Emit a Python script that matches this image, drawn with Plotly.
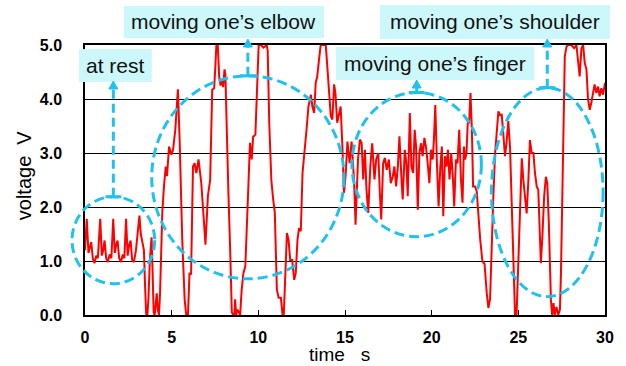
import plotly.graph_objects as go

# ---------------- data ----------------
time_s = [
    0.00, 0.10, 0.20, 0.28, 0.36, 0.45, 0.55, 0.65, 0.74, 0.88, 0.97, 1.05, 1.13, 1.22, 1.32, 1.42,
    1.52, 1.63, 1.72, 1.80, 1.88, 1.97, 2.08, 2.18, 2.27, 2.37, 2.46, 2.55, 2.63, 2.72, 2.82, 2.94,
    3.05, 3.14, 3.22, 3.32, 3.40, 3.47, 3.53, 3.60, 3.66, 3.74, 3.84, 3.90, 3.96, 4.02, 4.08, 4.14,
    4.20, 4.27, 4.33, 4.40, 4.46, 4.56, 4.66, 4.73, 4.85, 4.98, 5.08, 5.21, 5.30, 5.36, 5.46, 5.61,
    5.75, 5.84, 5.94, 6.03, 6.12, 6.23, 6.32, 6.42, 6.55, 6.71, 6.84, 6.95, 7.09, 7.22, 7.34, 7.45,
    7.52, 7.58, 7.66, 7.74, 7.82, 7.90, 7.97, 8.05, 8.10, 8.18, 8.27, 8.37, 8.47, 8.55, 8.62, 8.66,
    8.72, 8.80, 8.87, 8.95, 9.04, 9.14, 9.25, 9.33, 9.44, 9.52, 9.62, 9.70, 9.83, 9.92, 10.02, 10.15,
    10.30, 10.48, 10.54, 10.63, 10.75, 10.86, 10.95, 11.07, 11.17, 11.30, 11.40, 11.47, 11.55, 11.65,
    11.74, 11.84, 11.95, 12.07, 12.16, 12.26, 12.35, 12.45, 12.55, 12.65, 12.78, 12.89, 13.03, 13.12,
    13.22, 13.31, 13.40, 13.50, 13.60, 13.75, 13.89, 13.98, 14.08, 14.18, 14.27, 14.37, 14.45, 14.55,
    14.63, 14.75, 14.85, 14.94, 15.04, 15.14, 15.27, 15.38, 15.52, 15.61, 15.75, 15.86, 15.96, 16.05,
    16.15, 16.24, 16.34, 16.46, 16.57, 16.70, 16.80, 16.92, 17.01, 17.09, 17.20, 17.30, 17.41, 17.53,
    17.64, 17.76, 17.85, 17.95, 18.05, 18.14, 18.26, 18.33, 18.45, 18.54, 18.62, 18.74, 18.83, 18.93,
    19.02, 19.10, 19.20, 19.29, 19.39, 19.48, 19.58, 19.67, 19.77, 19.87, 19.96, 20.06, 20.13, 20.21,
    20.31, 20.40, 20.50, 20.59, 20.67, 20.77, 20.86, 20.94, 21.03, 21.13, 21.23, 21.30, 21.40, 21.49,
    21.59, 21.69, 21.78, 21.86, 21.93, 22.01, 22.09, 22.16, 22.24, 22.32, 22.39, 22.51, 22.60, 22.70,
    22.80, 22.93, 23.05, 23.18, 23.27, 23.37, 23.47, 23.56, 23.66, 23.75, 23.85, 23.95, 24.04, 24.13,
    24.23, 24.32, 24.42, 24.52, 24.62, 24.71, 24.81, 24.90, 25.00, 25.10, 25.20, 25.29, 25.39, 25.48,
    25.58, 25.67, 25.77, 25.87, 25.96, 26.06, 26.15, 26.25, 26.30, 26.38, 26.49, 26.59, 26.67, 26.76,
    26.88, 26.95, 27.03, 27.10, 27.20, 27.30, 27.40, 27.46, 27.53, 27.60, 27.68, 27.78, 27.87, 28.06,
    28.22, 28.35, 28.45, 28.54, 28.64, 28.74, 28.83, 28.93, 29.02, 29.12, 29.21, 29.31, 29.40, 29.50,
    29.60, 29.69, 29.79, 29.89, 30.00,
]
voltage_v = [
    1.20, 1.78, 1.15, 1.25, 1.35, 1.05, 0.96, 1.10, 1.05, 1.78, 1.10, 1.20, 1.38, 1.05, 0.98, 1.12,
    1.05, 1.78, 1.15, 1.30, 1.38, 1.05, 0.98, 1.12, 1.05, 1.78, 1.10, 1.30, 1.38, 1.02, 0.98, 1.20,
    1.50, 1.84, 1.50, 1.35, 1.20, 0.50, 0.02, 0.00, 0.30, 1.00, 1.44, 0.80, 0.05, 0.00, 0.25, 0.40,
    0.10, 0.00, 0.40, 1.20, 1.90, 2.40, 2.75, 2.57, 3.12, 2.97, 3.06, 3.43, 3.90, 4.18, 3.24, 1.40,
    0.28, 0.00, 0.00, 0.78, 0.75, 2.75, 2.81, 2.63, 2.88, 2.44, 1.83, 1.30, 2.20, 2.50, 4.17, 4.20,
    4.60, 5.00, 5.00, 4.42, 4.25, 4.35, 4.22, 4.55, 4.45, 3.25, 2.30, 1.27, 0.05, 0.00, 0.00, 0.29,
    0.00, 0.10, 0.05, 0.00, 0.47, 0.78, 0.90, 1.50, 2.63, 3.19, 2.88, 3.30, 3.34, 3.99, 5.00, 5.00,
    4.95, 5.00, 4.90, 3.56, 2.50, 2.13, 1.90, 0.47, 0.32, 0.32, 0.00, 0.02, 0.84, 1.52,
    1.40, 1.02, 1.02, 0.65, 0.78, 1.40, 1.61, 1.55, 2.63, 2.94, 3.43, 3.86, 4.08, 3.86,
    3.74, 4.30, 4.42, 4.73, 5.00, 5.00, 5.00, 4.60, 4.17, 3.68, 3.62, 4.27, 4.10, 3.56,
    3.68, 3.86, 3.12, 2.26, 2.60, 3.21, 2.81, 3.21, 2.51, 1.67, 2.88, 3.25, 3.18, 2.51,
    3.06, 2.32, 1.89, 2.75, 3.18, 2.51, 2.88, 3.00, 2.26, 1.77, 2.81, 2.91, 2.69, 2.88,
    2.44, 2.57, 2.75, 2.38, 2.75, 3.31, 2.51, 2.14, 3.06, 2.81, 2.20, 3.74, 2.75, 2.63,
    3.43, 3.12, 1.95, 3.00, 3.18, 2.94, 3.28, 3.12, 2.81, 2.44, 3.06, 2.88, 3.25, 3.89,
    2.75, 2.01, 2.75, 3.12, 1.83, 2.94, 2.75, 3.06, 2.51, 3.00, 2.51, 2.01, 2.88, 2.81,
    3.43, 2.51, 2.08, 3.12, 2.88, 3.00, 3.62, 3.55, 4.11, 3.43, 2.38, 2.38, 2.29, 1.77,
    1.40, 0.99, 0.95, 0.40, 0.13, 0.30, 1.40, 2.20, 3.00, 3.37, 3.77, 3.70, 3.71, 3.37,
    2.94, 3.19, 3.59, 3.12, 1.88, 0.78, 0.00, 0.02, 1.00, 2.20, 2.90, 2.50, 2.13, 1.88,
    2.50, 3.24, 3.00, 3.00, 2.63, 2.38, 2.32, 1.45, 0.96, 1.40, 2.20, 2.56, 2.44, 1.70,
    0.28, 0.00, 0.22, 0.00, 0.15, 0.00, 0.10, 0.78, 2.32, 3.86, 4.79, 4.97, 5.00, 5.00,
    4.94, 5.00, 4.67, 4.42, 4.94, 5.00, 4.67, 4.55, 4.00, 3.80, 3.93, 4.11, 4.27, 4.11,
    4.23, 4.05, 4.20, 4.08, 4.30,
]

x_ticks = [0, 5, 10, 15, 20, 25, 30]
y_ticks = [0, 1, 2, 3, 4, 5]
y_tick_text = ["0.0", "1.0", "2.0", "3.0", "4.0", "5.0"]

# highlighted regions (time / voltage extents of the dashed ellipses)
region_labels = ["at rest", "moving one’s elbow", "moving one’s finger", "moving one’s shoulder"]
region_t0 = [-0.75, 3.85, 15.40, 23.45]
region_t1 = [4.02, 14.94, 22.87, 29.89]
region_v0 = [0.58, 0.67, 1.45, 0.34]
region_v1 = [2.19, 4.43, 4.12, 4.21]

# ---------------- layout constants ----------------
W, H = 626, 366
ML, MR, MT, MB = 85, 19, 45, 51
PW, PH = W - ML - MR, H - MT - MB
X_RANGE = (0, 30)
Y_RANGE = (0, 5)

CYAN = "#1FC2EE"
BOXFILL = "#CCF7FB"
FONT = "Liberation Sans, Arial, Helvetica, sans-serif"


def tx(t):  # data time -> paper x
    return (t - X_RANGE[0]) / (X_RANGE[1] - X_RANGE[0])


def vy(v):  # data voltage -> paper y
    return (v - Y_RANGE[0]) / (Y_RANGE[1] - Y_RANGE[0])


def px(p):  # pixel x -> paper x
    return (p - ML) / PW


def py(p):  # pixel y -> paper y
    return (H - MB - p) / PH


fig = go.Figure()
fig.add_trace(go.Scatter(x=time_s, y=voltage_v, mode="lines",
                         line=dict(color="#FF0000", width=2), showlegend=False,
                         hoverinfo="skip"))

shapes = []
annotations = []

# dashed ellipses
for t0, t1, v0, v1 in zip(region_t0, region_t1, region_v0, region_v1):
    shapes.append(dict(type="circle", xref="paper", yref="paper",
                       x0=tx(t0), x1=tx(t1), y0=vy(v0), y1=vy(v1),
                       line=dict(color=CYAN, width=3, dash="10px,5px"),
                       layer="above"))

# label boxes (pixel positions of the boxes in the picture)
label_boxes = [(79, 152, 49, 82), (124, 325, 6, 38), (337, 536, 47, 80), (381, 612, 5, 39)]
arrow_tip_py = [81, 39, 80, 39]

for lab, (bx0, bx1, by0, by1), t0, t1, v1, tip in zip(region_labels, label_boxes, region_t0,
                                                       region_t1, region_v1, arrow_tip_py):
    shapes.append(dict(type="rect", xref="paper", yref="paper",
                       x0=px(bx0), x1=px(bx1), y0=py(by1), y1=py(by0),
                       fillcolor=BOXFILL, line=dict(width=0), layer="above"))
    annotations.append(dict(text=lab, xref="paper", yref="paper",
                            x=px((bx0 + bx1) / 2), y=py((by0 + by1) / 2),
                            xanchor="center", yanchor="middle", showarrow=False,
                            font=dict(family=FONT, size=21, color="#111111")))
    # arrow: dashed shaft from ellipse top to arrowhead, T-bar at base
    cx = tx((t0 + t1) / 2)
    top_y = vy(v1)
    cx_px = ML + cx * PW
    shapes.append(dict(type="line", xref="paper", yref="paper",
                       x0=cx, x1=cx, y0=top_y, y1=py(tip + 7),
                       line=dict(color=CYAN, width=3, dash="9px,5px"), layer="above"))
    shapes.append(dict(type="line", xref="paper", yref="paper",
                       x0=px(cx_px - 8), x1=px(cx_px + 8), y0=top_y, y1=top_y,
                       line=dict(color=CYAN, width=3), layer="above"))
    shapes.append(dict(type="path", xref="paper", yref="paper",
                       path=f"M {px(cx_px - 4.5)} {py(tip + 8)} L {px(cx_px + 4.5)} {py(tip + 8)} "
                            f"L {cx} {py(tip)} Z",
                       fillcolor=CYAN, line=dict(color=CYAN, width=1), layer="above"))

# axis titles
annotations.append(dict(text="time\u00a0\u00a0\u00a0s", xref="paper", yref="paper",
                        x=px(340), y=py(366), xanchor="center", yanchor="bottom",
                        borderpad=0, showarrow=False,
                        font=dict(family=FONT, size=19, color="black")))
annotations.append(dict(text="voltage\u00a0\u00a0V", xref="paper", yref="paper",
                        x=px(24), y=py(175), xanchor="center", yanchor="middle",
                        textangle=-90, showarrow=False,
                        font=dict(family=FONT, size=20, color="black")))

fig.update_layout(
    width=W, height=H,
    margin=dict(l=ML, r=MR, t=MT, b=MB, pad=0),
    paper_bgcolor="white", plot_bgcolor="white",
    shapes=shapes, annotations=annotations,
    showlegend=False,
    xaxis=dict(range=list(X_RANGE), tickvals=x_ticks, ticktext=[str(v) for v in x_ticks],
               ticks="inside", ticklen=5, tickwidth=1, tickcolor="black",
               showline=True, mirror=True, linecolor="black", linewidth=1.5,
               showgrid=False, zeroline=False, fixedrange=True, ticklabelstandoff=7,
               tickfont=dict(family=FONT, size=16, color="black", weight="bold")),
    yaxis=dict(range=list(Y_RANGE), tickvals=y_ticks, ticktext=y_tick_text,
               ticks="", showline=True, mirror=True, linecolor="black", linewidth=1.5,
               showgrid=True, gridcolor="black", gridwidth=1, zeroline=False,
               fixedrange=True, ticklabelstandoff=18,
               tickfont=dict(family=FONT, size=16, color="black", weight="bold")),
)

fig.write_html("out.html", config={"displayModeBar": False})
